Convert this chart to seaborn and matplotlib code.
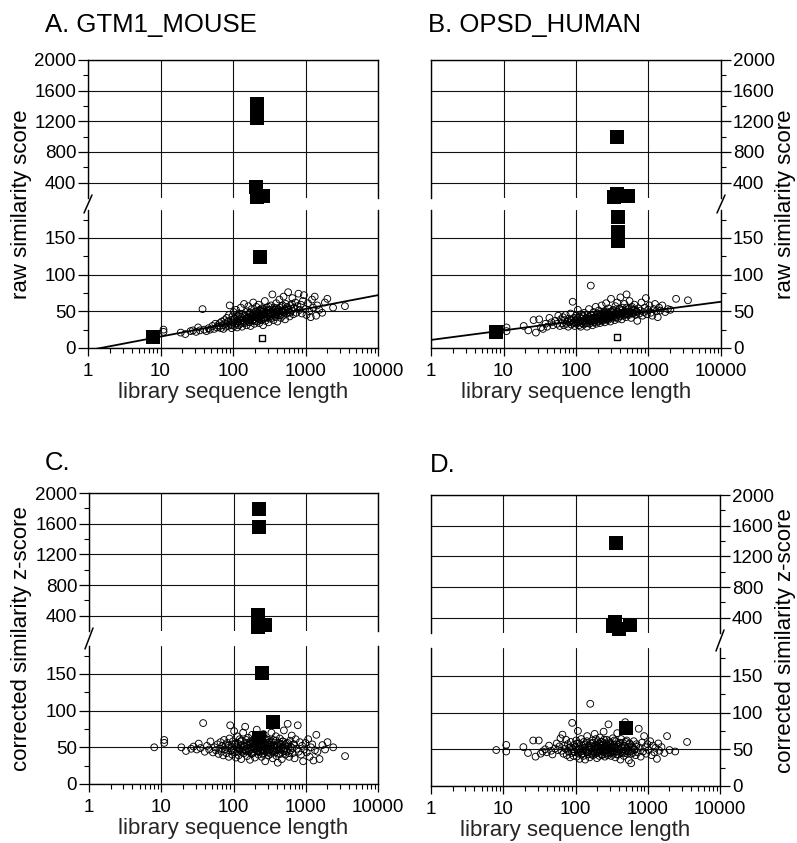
import matplotlib
matplotlib.use("Agg")
import matplotlib.pyplot as plt
import seaborn as sns
from matplotlib.lines import Line2D
from matplotlib.ticker import NullFormatter, FixedLocator

# ---------------- data ----------------
# library sequence lengths (same library searched in all four panels)
lengths = [
    8, 11, 11, 19, 22, 26, 28, 31, 33, 35, 38, 40, 43, 46, 48, 52, 55, 57, 60, 62,
    64, 66, 68, 70, 72, 74, 76, 78, 80, 82, 84, 86, 88, 90, 92, 94, 96, 98, 100, 102,
    104, 106, 108, 110, 112, 114, 116, 118, 120, 122,
    124, 126, 128, 130, 133, 136, 139, 142, 145, 148, 151, 154, 157, 160, 163, 166, 169, 172, 175, 178,
    181, 184, 187, 190, 194, 198, 202, 206, 210, 214, 218, 222, 226, 230, 235, 240, 245, 250, 255, 260,
    265, 270, 275, 280, 286, 292, 298, 304, 310, 316,
    322, 328, 335, 342, 349, 356, 363, 370, 378, 386, 394, 402, 410, 419, 428, 437, 446, 456, 466, 476,
    487, 498, 510, 522, 535, 548, 562, 576, 590, 605, 620, 640, 660, 680, 700, 725, 750, 775, 800, 830,
    860, 890, 920, 950, 990, 1030, 1080, 1130, 1180, 1230, 1280, 1340, 1400, 1450, 1550, 1700, 1850, 2000, 2400, 3500,
    85, 95, 105, 115, 125, 132, 138, 144, 150, 156, 162, 168, 174, 180, 186, 192, 197, 203, 208, 213,
    217, 223, 228, 233, 238, 243, 248, 253, 258, 263, 268, 273, 278, 284, 290, 296, 302, 308, 314, 320,
    332, 345, 358, 372, 385, 398, 412, 425, 440, 455, 470, 485, 500, 520, 540, 560, 585, 615, 650, 690,
]

score_A = [
    15, 25, 22, 21, 19, 23, 24, 22, 28, 24, 53, 25, 23, 27, 25, 30, 26, 33, 28, 31,
    29, 34, 27, 36, 31, 26, 38, 33, 29, 41, 35, 30, 45, 58, 32, 38, 27, 43, 35, 49,
    30, 40, 33, 52, 37, 28, 44, 36, 31, 47,
    39, 33, 55, 42, 29, 46, 37, 60, 34, 44, 40, 31, 50, 38, 57, 43, 35, 48, 30, 41,
    53, 37, 45, 62, 39, 33, 49, 42, 56, 36, 47, 40, 59, 34, 51, 44, 38, 54, 46, 31,
    50, 42, 64, 37, 48, 55, 41, 45, 35, 52,
    47, 40, 58, 44, 73, 50, 38, 55, 46, 42, 61, 49, 36, 53, 45, 66, 48, 41, 57, 50,
    44, 70, 52, 39, 60, 47, 54, 76, 49, 43, 58, 51, 68, 46, 55, 62, 48, 57, 74, 52,
    59, 47, 64, 72, 53, 45, 61, 50, 42, 66, 55, 70, 44, 58, 52, 48, 62, 67, 55, 57,
    36, 31, 40, 34, 43, 38, 35, 45, 39, 41, 36, 47, 40, 43, 38, 46, 42, 37, 50, 44,
    41, 46, 39, 52, 43, 47, 41, 49, 45, 40, 53, 46, 44, 48, 42, 51, 47, 45, 56, 43,
    49, 46, 52, 48, 44, 54, 50, 47, 55, 45, 51, 58, 49, 53, 50, 56, 52, 48, 60, 54,
]

score_B = [
    22, 28, 23, 30, 24, 38, 21, 39, 28, 26, 33, 29, 41, 35, 31, 37, 33, 44, 30, 39,
    34, 42, 31, 38, 45, 33, 36, 29, 40, 35, 47, 32, 38, 63, 34, 41, 30, 37, 44, 33,
    39, 52, 35, 31, 42, 37, 29, 46, 34, 40,
    36, 43, 32, 48, 38, 34, 41, 29, 45, 37, 53, 33, 40, 85, 36, 44, 31, 39, 49, 35,
    42, 38, 56, 33, 45, 40, 36, 51, 43, 34, 47, 39, 58, 41, 37, 46, 50, 35, 44, 61,
    40, 48, 38, 54, 42, 45, 36, 67, 43, 49,
    41, 52, 46, 38, 57, 44, 49, 62, 40, 47, 53, 43, 69, 46, 39, 55, 48, 44, 60, 50,
    42, 73, 47, 53, 45, 64, 49, 41, 56, 48, 52, 59, 45, 50, 37, 54, 47, 51, 62, 44,
    49, 55, 68, 46, 52, 58, 48, 44, 53, 60, 50, 42, 55, 51, 58, 49, 53, 52, 67, 65,
    38, 35, 41, 36, 44, 37, 40, 34, 42, 39, 45, 38, 41, 36, 43, 40, 47, 39, 42, 37,
    44, 41, 46, 38, 43, 48, 40, 45, 42, 50, 39, 44, 47, 41, 46, 43, 49, 42, 45, 51,
    44, 47, 42, 50, 46, 53, 44, 48, 52, 45, 49, 47, 55, 46, 50, 48, 54, 47, 52, 49,
]

score_C = [
    50, 60, 56, 50, 45, 48, 51, 47, 55, 49, 83, 44, 52, 47, 58, 43, 50, 46, 54, 41,
    48, 57, 44, 52, 39, 60, 47, 53, 42, 56, 49, 37, 62, 80, 45, 51, 40, 58, 47, 72,
    43, 54, 36, 50, 65, 44, 55, 39, 48, 61,
    46, 53, 34, 59, 47, 70, 42, 51, 78, 45, 56, 38, 49, 63, 44, 53, 33, 58, 47, 41,
    67, 50, 55, 43, 61, 36, 52, 48, 74, 45, 57, 40, 63, 50, 44, 59, 37, 53, 47, 68,
    42, 55, 31, 49, 61, 45, 52, 39, 57, 46,
    54, 41, 70, 48, 35, 60, 46, 52, 43, 65, 38, 50, 29, 56, 47, 62, 41, 53, 34, 58,
    45, 73, 49, 40, 55, 44, 82, 51, 37, 59, 46, 66, 42, 54, 35, 61, 48, 80, 44, 57,
    40, 52, 31, 47, 56, 43, 61, 37, 50, 54, 32, 46, 67, 44, 34, 53, 47, 57, 50, 38,
    52, 46, 55, 49, 58, 44, 51, 47, 60, 53, 45, 56, 50, 42, 57, 48, 54, 62, 46, 51,
    59, 44, 53, 49, 64, 47, 55, 41, 58, 50, 45, 61, 52, 48, 56, 43, 54, 60, 47, 51,
    57, 44, 53, 49, 59, 46, 52, 41, 55, 48, 50, 58, 45, 53, 47, 56, 42, 51, 49, 54,
]

score_D = [
    49, 56, 47, 53, 45, 62, 40, 62, 44, 47, 50, 46, 55, 48, 43, 51, 58, 49, 54, 65,
    48, 70, 44, 55, 51, 63, 42, 57, 47, 52, 39, 60, 45, 86, 50, 41, 56, 46, 53, 62,
    40, 49, 75, 44, 58, 37, 51, 47, 64, 43,
    55, 48, 41, 60, 52, 36, 57, 46, 68, 43, 54, 49, 39, 112, 58, 45, 51, 62, 42, 53,
    47, 71, 44, 56, 50, 38, 61, 46, 53, 41, 66, 49, 55, 43, 60, 47, 74, 52, 40, 57,
    45, 63, 50, 42, 84, 54, 46, 59, 41, 52,
    48, 65, 44, 56, 51, 39, 61, 47, 72, 53, 43, 58, 49, 36, 64, 52, 45, 59, 41, 55,
    87, 48, 62, 44, 53, 35, 58, 47, 31, 54, 45, 61, 50, 42, 57, 46, 78, 52, 40, 59,
    47, 68, 53, 44, 57, 49, 61, 42, 55, 46, 52, 37, 58, 48, 53, 45, 68, 49, 47, 60,
    53, 47, 58, 50, 44, 56, 49, 61, 46, 52, 55, 43, 59, 48, 51, 64, 45, 54, 50, 57,
    47, 60, 52, 42, 56, 49, 63, 46, 53, 50, 58, 44, 55, 48, 61, 51, 45, 57, 49, 54,
    47, 62, 52, 43, 56, 50, 59, 46, 53, 48, 55, 45, 60, 51, 47, 57, 44, 52, 49, 54,
]

# related (homologous) sequences: filled squares
hit_len_A = [214, 214, 210, 212, 262, 236, 8]
hit_score_A = [1420, 1240, 340, 215, 222, 124, 15]
hit_len_B = [370, 330, 370, 525, 380, 375, 375, 8]
hit_score_B = [1000, 215, 250, 225, 178, 158, 146, 22]
hit_len_C = [224, 224, 215, 220, 275, 247, 350, 225]
hit_score_C = [1795, 1560, 410, 258, 275, 151, 84, 62]
hit_len_D = [362, 350, 400, 560, 330, 500]
hit_score_D = [1368, 340, 255, 310, 295, 79]

# shuffled query (small open square)
self_len_A, self_score_A = [250], [14]
self_len_B, self_score_B = [370], [15]

# regression lines (raw score vs log length)
fit_x = [1, 10000]
fit_A = [-3.3, 72]
fit_B = [11, 63]

x_ticks = [1, 10, 100, 1000, 10000]
x_ticklabels = ["1", "10", "100", "1000", "10000"]
up_ticks = [400, 800, 1200, 1600, 2000]
up_minor = [600, 1000, 1400, 1800]
lo_ticks = [0, 50, 100, 150]
lo_minor = [25, 75, 125, 175]

# ---------------- style ----------------
sns.set_theme(style="white")
plt.rcParams["font.family"] = ["Liberation Sans", "DejaVu Sans"]
plt.rcParams["axes.edgecolor"] = "black"
plt.rcParams["text.color"] = "black"
plt.rcParams["xtick.color"] = "black"
plt.rcParams["ytick.color"] = "black"

W, H = 797, 843
fig = plt.figure(figsize=(W / 100, H / 100), dpi=100)
fig.patch.set_facecolor("white")


def rect(l, t, r, b):
    return [l / W, 1 - b / H, (r - l) / W, (b - t) / H]


panels = [
    dict(title="A. GTM1_MOUSE", ylabel="raw similarity score", side="left",
         l=88, r=378, t=60, b=348, tx=45, ty=25, ylx=22,
         y=score_A, hx=hit_len_A, hy=hit_score_A, sx=self_len_A, sy=self_score_A, fit=fit_A),
    dict(title="B. OPSD_HUMAN", ylabel="raw similarity score", side="right",
         l=431, r=721, t=60, b=348, tx=428, ty=25, ylx=786,
         y=score_B, hx=hit_len_B, hy=hit_score_B, sx=self_len_B, sy=self_score_B, fit=fit_B),
    dict(title="C.", ylabel="corrected similarity z-score", side="left",
         l=89, r=378, t=493, b=784, tx=45, ty=463, ylx=22,
         y=score_C, hx=hit_len_C, hy=hit_score_C, sx=None, sy=None, fit=None),
    dict(title="D.", ylabel="corrected similarity z-score", side="right",
         l=431, r=720, t=495, b=786, tx=430, ty=465, ylx=786,
         y=score_D, hx=hit_len_D, hy=hit_score_D, sx=None, sy=None, fit=None),
]

SEC = 138
for p in panels:
    ax_up = fig.add_axes(rect(p["l"], p["t"], p["r"], p["t"] + SEC))
    ax_lo = fig.add_axes(rect(p["l"], p["b"] - SEC, p["r"], p["b"]))
    for ax in (ax_up, ax_lo):
        ax.set_facecolor("white")
        ax.set_xscale("log")
        ax.set_xlim(1, 10000)
        for s in ax.spines.values():
            s.set_color("black")
            s.set_linewidth(1.0)
        ax.grid(True, which="major", color="#111111", linewidth=0.8)
        ax.set_axisbelow(True)
        ax.tick_params(axis="y", which="major", direction="out", length=7, width=0.9,
                       labelsize=13.5, pad=1.5)
        ax.tick_params(axis="y", which="minor", direction="out", length=3.5, width=0.8)
        if p["side"] == "right":
            ax.tick_params(axis="y", which="both", left=False, right=True,
                           labelleft=False, labelright=True)
        else:
            ax.tick_params(axis="y", which="both", left=True, right=False,
                           labelleft=True, labelright=False)

    ax_up.spines["bottom"].set_visible(False)
    ax_lo.spines["top"].set_visible(False)

    ax_up.set_ylim(200, 2000)
    ax_up.set_yticks(up_ticks)
    ax_up.yaxis.set_minor_locator(FixedLocator(up_minor))
    ax_up.tick_params(axis="x", which="both", bottom=False, top=False, labelbottom=False)

    ax_lo.set_ylim(0, 188)
    ax_lo.set_yticks(lo_ticks)
    ax_lo.yaxis.set_minor_locator(FixedLocator(lo_minor))
    ax_lo.set_xticks(x_ticks)
    ax_lo.set_xticklabels(x_ticklabels)
    ax_lo.xaxis.set_minor_formatter(NullFormatter())
    ax_lo.tick_params(axis="x", which="major", direction="out", length=6, width=0.9,
                      labelsize=13.5, pad=5, bottom=True, top=False)
    ax_lo.tick_params(axis="x", which="minor", direction="out", length=3.5, width=0.8,
                      bottom=True, top=False)
    ax_lo.set_xlabel("library sequence length", fontsize=16, labelpad=1)
    ax_lo.set_ylabel("")
    ax_up.set_ylabel("")
    ax_up.set_xlabel("")

    # library sequences: open circles
    sns.scatterplot(x=lengths, y=p["y"], ax=ax_lo, marker="o", s=24,
                    facecolors="none", edgecolor="black", linewidth=0.65,
                    zorder=3, legend=False)

    # regression line
    if p["fit"] is not None:
        sns.lineplot(x=fit_x, y=p["fit"], ax=ax_lo, color="black", linewidth=1.3,
                     zorder=3, legend=False)

    # homologous sequences: filled squares
    up_x = [x for x, y in zip(p["hx"], p["hy"]) if y >= 200]
    up_y = [y for y in p["hy"] if y >= 200]
    lo_x = [x for x, y in zip(p["hx"], p["hy"]) if y < 200]
    lo_y = [y for y in p["hy"] if y < 200]
    sns.scatterplot(x=up_x, y=up_y, ax=ax_up, marker="s", s=95, color="black",
                    edgecolor="black", linewidth=0, zorder=5, clip_on=False, legend=False)
    sns.scatterplot(x=lo_x, y=lo_y, ax=ax_lo, marker="s", s=95, color="black",
                    edgecolor="black", linewidth=0, zorder=5, clip_on=False, legend=False)

    if p["sx"] is not None:
        sns.scatterplot(x=p["sx"], y=p["sy"], ax=ax_lo, marker="s", s=16,
                        facecolors="none", edgecolor="black", linewidth=1.0,
                        zorder=5, legend=False)

    ax_up.set_xlim(1, 10000)
    ax_lo.set_xlim(1, 10000)

    # axis-break mark on the labelled spine
    bx = p["l"] if p["side"] == "left" else p["r"]
    y_top = p["t"] + SEC - 3
    y_bot = p["b"] - SEC + 3
    fig.add_artist(Line2D([(bx - 4) / W, (bx + 4) / W],
                          [1 - y_bot / H, 1 - y_top / H],
                          color="black", linewidth=1.1))

    # panel title and y label
    fig.text(p["tx"] / W, 1 - p["ty"] / H, p["title"], fontsize=18.5,
             ha="left", va="center")
    fig.text(p["ylx"] / W, 1 - ((p["t"] + p["b"]) / 2) / H, p["ylabel"],
             fontsize=16, rotation=90, ha="center", va="center")

fig.savefig("out.png", dpi=100, facecolor="white")
